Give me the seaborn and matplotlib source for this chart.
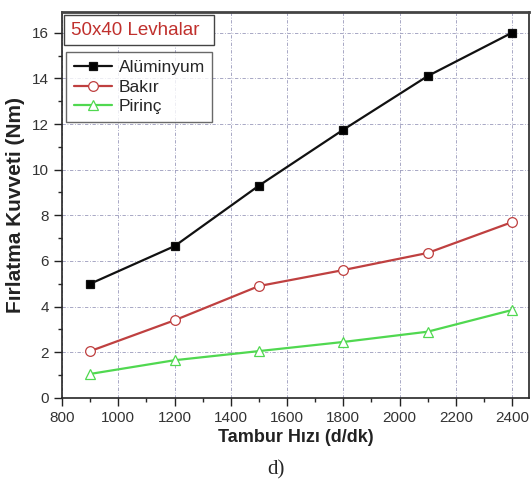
import numpy as np
import matplotlib
matplotlib.use("Agg")
import matplotlib.pyplot as plt
from matplotlib.patches import Rectangle
import seaborn as sns
import pandas as pd

hiz = [900, 1200, 1500, 1800, 2100, 2400]
aluminyum = [5.0, 6.65, 9.3, 11.75, 14.1, 16.0]
bakir = [2.05, 3.4, 4.9, 5.6, 6.35, 7.7]
pirinc = [1.05, 1.65, 2.05, 2.45, 2.9, 3.85]
seriler = ["Alüminyum", "Bakır", "Pirinç"]

sns.set_style("ticks")
plt.rcParams['font.family'] = ['Liberation Sans', 'DejaVu Sans']

df = pd.DataFrame({
    "hiz": hiz * 3,
    "deger": aluminyum + bakir + pirinc,
    "seri": [s for s in seriler for _ in hiz],
})

fig = plt.figure(figsize=(5.31, 4.87), dpi=100)
ax = fig.add_axes([0.117, 0.183, 0.879, 0.792])

renkler = {"Alüminyum": "#111111", "Bakır": "#bf4040", "Pirinç": "#50d850"}
isaretler = {"Alüminyum": "s", "Bakır": "o", "Pirinç": "^"}
boyut = {"Alüminyum": 6, "Bakır": 7, "Pirinç": 7.5}
for s in seriler:
    d = df[df.seri == s]
    face = "black" if s == "Alüminyum" else "white"
    sns.lineplot(data=d, x="hiz", y="deger", ax=ax, color=renkler[s], marker=isaretler[s],
                 markersize=boyut[s], markerfacecolor=face, markeredgecolor=renkler[s],
                 markeredgewidth=0.9, linewidth=1.6, label=s)

ax.set_xlim(800, 2460)
ax.set_ylim(0, 16.9)
ax.set_xticks(range(800, 2401, 200))
ax.set_yticks(range(0, 17, 2))
ax.set_xticks(range(800, 2460, 100), minor=True)
ax.set_yticks(range(0, 17, 1), minor=True)
ax.tick_params(which="major", direction="out", length=6, width=1, labelsize=11,
               colors="#222222", labelcolor="#333333")
ax.tick_params(which="minor", direction="out", length=3, width=1)
ax.grid(True, which="major", linestyle=(0, (4, 2, 1, 2)), color="#9a9abb", linewidth=0.6)
for sp in ax.spines.values():
    sp.set_linewidth(1.2)
ax.spines["top"].set_linewidth(2)
ax.spines["top"].set_color("#444444")

ax.set_xlabel("Tambur Hızı (d/dk)", fontsize=13, fontweight="bold", labelpad=3, color="#222222")
ax.set_ylabel("Fırlatma Kuvveti (Nm)", fontsize=15, fontweight="bold", labelpad=5, color="#222222")

ax.add_patch(Rectangle((0.004, 0.915), 0.321, 0.077, transform=ax.transAxes,
                       facecolor="white", edgecolor="#444444", linewidth=1, zorder=5))
ax.text(0.02, 0.953, "50x40 Levhalar", transform=ax.transAxes, color="#c0302d", fontsize=13.5,
        va="center", ha="left", zorder=6)

leg = ax.legend(loc="upper left", bbox_to_anchor=(0.0086, 0.896, 0.313, 0.0), mode="expand",
                fontsize=12.5, frameon=True, fancybox=False, edgecolor="#444444",
                handlelength=2.2, borderpad=0.45, labelspacing=0.25, handletextpad=0.4,
                borderaxespad=0)
leg.get_frame().set_linewidth(1)

fig.text(0.52, 0.035, "d)", fontsize=15, family="Liberation Serif", ha="center", va="center")

fig.savefig("out.png", dpi=100)
